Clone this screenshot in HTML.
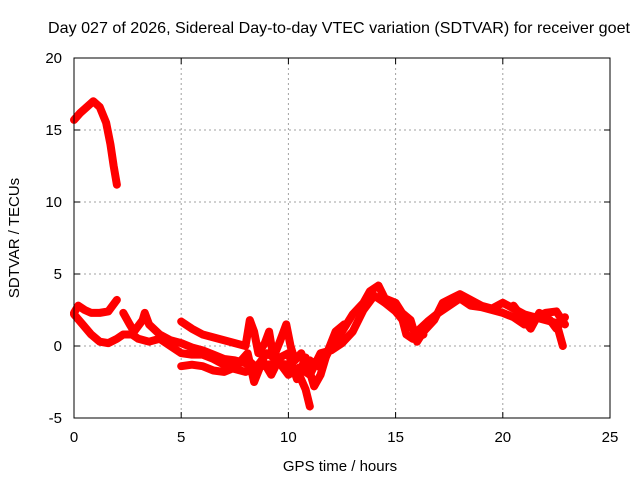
<!DOCTYPE html>
<html><head><meta charset="utf-8"><style>
body{margin:0;background:#fff}
svg{display:block;font-family:"Liberation Sans",sans-serif}
</style></head><body>
<svg id="c" width="640" height="480">
<text x="339" y="33" font-size="16" text-anchor="middle" textLength="582" lengthAdjust="spacingAndGlyphs">Day 027 of 2026, Sidereal Day-to-day VTEC variation (SDTVAR) for receiver goet</text>
<text x="340" y="471" font-size="15" text-anchor="middle">GPS time / hours</text>
<text transform="translate(19,238) rotate(-90)" font-size="15" text-anchor="middle">SDTVAR / TECUs</text>
<g id="grid"></g><g id="data"></g>
<rect x="74" y="58" width="536" height="360" fill="none" stroke="#000" stroke-width="1"/>
<g id="axes"></g>
</svg>
<script>
const xTicks=[0,5,10,15,20,25];
const yTicks=[-5,0,5,10,15,20];
const trackA=[[0,15.7],[0.3,16.2],[0.6,16.6],[0.9,17],[1.2,16.6],[1.5,15.5],[1.7,14],[1.85,12.5],[2,11.2]];
const trackB=[[0,2.3],[0.2,2.8],[0.5,2.5],[0.8,2.3],[1.2,2.3],[1.6,2.4],[2,3.2]];
const trackC=[[0,2.2],[0.4,1.5],[0.8,0.8],[1.2,0.3],[1.6,0.2],[2,0.5],[2.3,0.8],[2.7,0.8],[3,0.5],[3.5,0.3],[4,0.5],[4.5,0],[5,-0.5],[5.5,-0.6],[6,-0.6],[6.5,-0.9],[7,-1.3],[7.5,-1.6],[8,-1.8],[8.5,-1.5],[9,-1.3],[9.5,-1.2],[10,-1.3],[10.5,-2],[10.8,-3],[11,-4.2]];
const trackD=[[2.3,2.3],[2.6,1.5],[2.8,1],[3.2,1.8],[3.3,2.3],[3.5,1.5],[4,0.8],[4.5,0.4],[5,0.2],[5.5,-0.1],[6,-0.3],[6.5,-0.6],[7,-0.9],[7.5,-1],[8,-1.2],[8.3,-1.5]];
const trackE=[[5,1.7],[5.5,1.2],[6,0.8],[6.5,0.6],[7,0.4],[7.5,0.2],[8,0],[8.2,1.8],[8.4,1],[8.6,-0.5],[8.9,0.2],[9.1,1],[9.3,-0.8],[9.6,0.3],[9.9,1.5],[10.1,0],[10.3,-1],[10.6,-0.5],[10.8,-1.5]];
const trackF=[[5,-1.4],[5.5,-1.3],[6,-1.4],[6.5,-1.7],[7,-1.8],[7.5,-1.5],[8,-0.8],[8.5,-1.5],[9,-0.5],[9.5,-1],[10,-2],[10.5,-1.5],[11,-2],[11.5,-0.5],[12,-0.3],[12.5,0.2],[13,1],[13.5,2.5],[14,3.5],[14.5,3],[15,2.4],[15.5,1.5],[16,1],[16.5,1.7],[17,2.3],[17.5,2.8],[18,3.3],[18.5,2.8],[19,2.7],[19.5,2.5],[20,2.3],[20.5,2],[21,1.5],[21.5,2],[22,1.8],[22.5,1.6],[22.8,0]];
const trackG=[[11,-1],[11.5,-1.5],[12,0],[12.5,1],[13,2.2],[13.5,3],[13.8,3.8],[14.2,4.2],[14.5,3.3],[15,3],[15.3,2.3],[15.7,1.8],[16,0.3],[16.3,1],[16.8,1.8],[17.2,3],[17.6,3.3],[18,3.6],[18.5,3.2],[19,2.8],[19.5,2.6],[20,3],[20.5,2.6],[21,2.2],[21.5,2],[22,2.3],[22.5,2.4],[22.9,1.5]];
const trackH=[[15.2,2.5],[15.5,0.8],[15.8,0.5],[16.3,0.8]];
const trackI=[[7.8,-1],[8.1,-0.5],[8.4,-2.5],[8.8,-1],[9.2,-2],[9.6,-0.8],[10,-0.5],[10.4,-2.3],[10.8,-0.8],[11.2,-2.8],[11.5,-2],[11.8,-0.5],[12.2,1],[12.6,1.5]];
const trackJ=[[20.5,2.8],[21,1.8],[21.3,1.2],[21.7,2.3],[22.2,1.8],[22.5,1.2],[22.9,2]];
const tracks=[trackA,trackB,trackC,trackD,trackE,trackF,trackG,trackH,trackI,trackJ];
const X0=74,X1=610,Y0=418,Y1=58;
const xs=v=>X0+(v-0)/(25-0)*(X1-X0);
const ys=v=>Y0-(v+5)/(25)*(Y0-Y1);
const NS='http://www.w3.org/2000/svg';
function mk(t,a,p){const e=document.createElementNS(NS,t);for(const k in a)e.setAttribute(k,a[k]);p.appendChild(e);return e;}
const grid=document.getElementById('grid'),axes=document.getElementById('axes'),data=document.getElementById('data');
xTicks.forEach(t=>{const x=xs(t);
 if(t>0&&t<25){const g=mk('line',{x1:x,x2:x,y1:Y1,y2:Y0,stroke:'#a0a0a0','stroke-dasharray':'2,3'},grid);
 }
 const a=mk('line',{x1:x,x2:x,y1:Y0,y2:Y0-6,stroke:'#000'},axes);
 const b=mk('line',{x1:x,x2:x,y1:Y1,y2:Y1+6,stroke:'#000'},axes);
 const l=mk('text',{x:x,y:442,'font-size':15,'text-anchor':'middle'},axes);l.textContent=t;
 });
yTicks.forEach(t=>{const y=ys(t);
 if(t>-5&&t<20){const g=mk('line',{x1:X0,x2:X1,y1:y,y2:y,stroke:'#a0a0a0','stroke-dasharray':'2,3'},grid);
 }
 const a=mk('line',{x1:X0,x2:X0+6,y1:y,y2:y,stroke:'#000'},axes);
 const b=mk('line',{x1:X1,x2:X1-6,y1:y,y2:y,stroke:'#000'},axes);
 const l=mk('text',{x:62,y:y+5,'font-size':15,'text-anchor':'end'},axes);l.textContent=t;
 });
tracks.forEach(tr=>{
 const p=mk('polyline',{points:tr.map(d=>xs(d[0])+','+ys(d[1])).join(' '),fill:'none',stroke:'#ff0000','stroke-width':8,'stroke-linejoin':'round','stroke-linecap':'round'},data);
 
 
});
</script>
</body></html>
